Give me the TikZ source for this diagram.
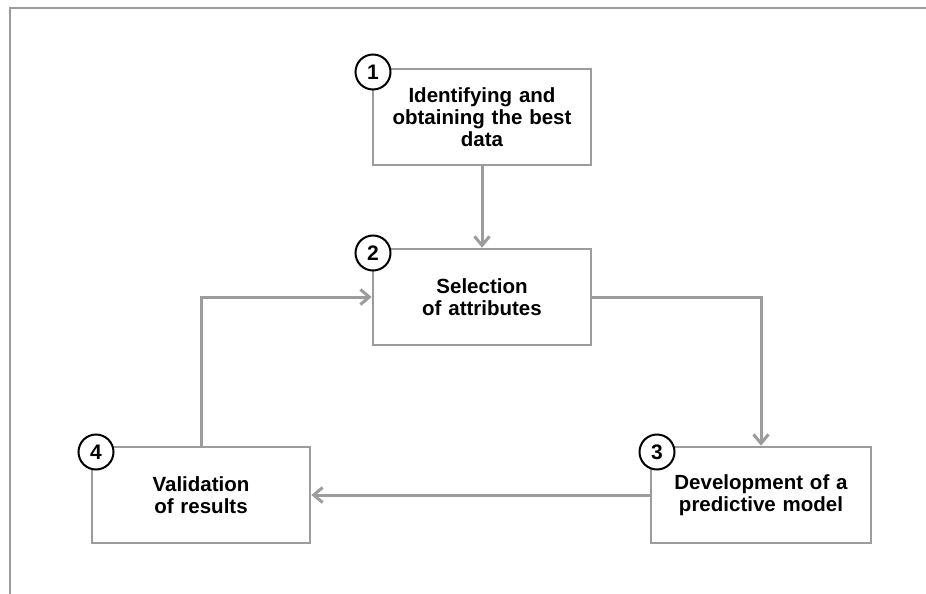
\documentclass[tikz,border=0pt]{standalone}
\usepackage{fontspec}
\setmainfont{Liberation Sans}
\usetikzlibrary{arrows.meta}

\definecolor{linegray}{HTML}{9C9C9C}

\tikzset{
  stepbox/.style={draw=linegray, line width=2.6pt, fill=white,
    minimum width=218pt, minimum height=96pt, text width=205pt, align=center,
    font=\bfseries\fontsize{20.5}{22}\selectfont},
  badge/.style={circle, draw=black, line width=2pt, fill=white,
    minimum size=35pt, inner sep=0pt, font=\bfseries\fontsize{21}{22}\selectfont},
  flow/.style={draw=linegray, line width=3pt,
    -{Straight Barb[length=9pt, width=15pt, line width=3pt]}}
}

\begin{document}
\begin{tikzpicture}[x=1pt, y=-1pt]

  \useasboundingbox (0,0) rectangle (926,594);

  % Frame
  \draw[linegray, line width=2.6pt] (926,8) -- (10,8) -- (10,594);

  % Define nodes
  \node[stepbox] (data)  at (482,117) {Identifying and\\obtaining the best\\data};
  \node[stepbox] (attr)  at (482,297) {Selection\\of attributes};
  \node[stepbox, minimum width=220pt] (model) at (761,495) {Development of a\\predictive model};
  \node[stepbox] (valid) at (201,495) {Validation\\of results};

  % Numbers
  \node[badge] (n1) at (373,72)  {1};
  \node[badge] (n2) at (373,253) {2};
  \node[badge] (n3) at (657,452) {3};
  \node[badge] (n4) at (96,452)  {4};

  % Connect the nodes
  \draw[flow] (data) -- (attr);
  \draw[flow] (attr.east) -| (model.north);
  \draw[flow] (model.west) -- (valid.east);
  \draw[flow] (valid.north) |- (attr.west);

\end{tikzpicture}
\end{document}
